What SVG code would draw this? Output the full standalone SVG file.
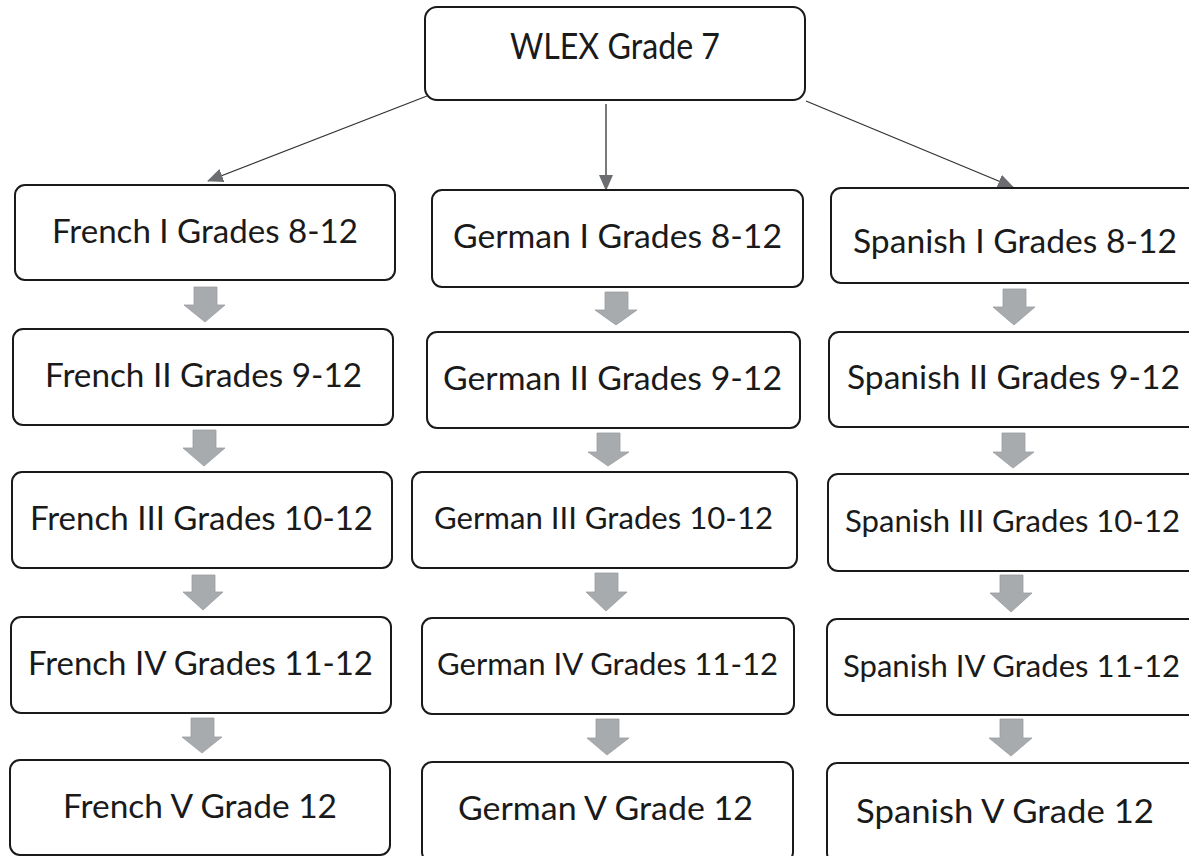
<svg xmlns="http://www.w3.org/2000/svg" width="1189" height="856" viewBox="0 0 1189 856">
<style>
.box{fill:#fff;stroke:#1a1a1a;stroke-width:2}
.t{font-family:Lato,"Open Sans",sans-serif;font-size:32px;fill:#1a1a1a;text-anchor:middle}
.blk{fill:#a8abae;stroke:#9a9da1;stroke-width:0.8}
.con{stroke:#333;stroke-width:1.3;fill:none;marker-end:url(#ah)}
</style>
<defs>
<marker id="ah" markerUnits="userSpaceOnUse" markerWidth="16" markerHeight="14" refX="15" refY="7" orient="auto" viewBox="0 0 16 14">
<path d="M0,0 L16,7 L0,14 z" fill="#6b6d70"/>
</marker>
</defs>
<rect width="1189" height="856" fill="#fff"/>
<g id="connectors">
<line class="con" x1="427" y1="96" x2="208" y2="181"/>
<line class="con" x1="606" y1="104" x2="606" y2="190"/>
<line class="con" x1="806" y1="101" x2="1013" y2="187"/>
<path class="blk" d="M194,287 H217 V305 H225 L205,322 L184,305 H194 Z"/>
<path class="blk" d="M193,430 H216 V448 H225 L204,466 L183,448 H193 Z"/>
<path class="blk" d="M192,575 H215 V592 H223 L203,610 L183,592 H192 Z"/>
<path class="blk" d="M191,718 H214 V737 H222 L202,753 L182,737 H191 Z"/>
<path class="blk" d="M605,292 H628 V310 H637 L616,325 L595,310 H605 Z"/>
<path class="blk" d="M597,433 H620 V452 H629 L608,466 L588,452 H597 Z"/>
<path class="blk" d="M595,573 H618 V592 H627 L606,611 L586,592 H595 Z"/>
<path class="blk" d="M596,719 H619 V738 H629 L607,755 L587,738 H596 Z"/>
<path class="blk" d="M1003,289 H1026 V307 H1035 L1014,325 L993,307 H1003 Z"/>
<path class="blk" d="M1002,433 H1025 V452 H1034 L1013,468 L993,452 H1002 Z"/>
<path class="blk" d="M1000,575 H1023 V593 H1032 L1011,612 L990,593 H1000 Z"/>
<path class="blk" d="M1000,719 H1023 V738 H1032 L1011,756 L989,738 H1000 Z"/>
</g>
<g id="wlex"><rect class="box" x="425" y="7" width="380" height="93" rx="12"/><text class="t" x="615" y="59" style="font-size:36px" textLength="210" lengthAdjust="spacingAndGlyphs">WLEX Grade 7</text></g>
<g id="french1"><rect class="box" x="15" y="185" width="380" height="95" rx="10"/><text class="t" x="205" y="243" textLength="306" lengthAdjust="spacingAndGlyphs">French I Grades 8-12</text></g>
<g id="french2"><rect class="box" x="13" y="329" width="380" height="96" rx="10"/><text class="t" x="203.5" y="387" textLength="317" lengthAdjust="spacingAndGlyphs">French II Grades 9-12</text></g>
<g id="french3"><rect class="box" x="12" y="472" width="380" height="96" rx="10"/><text class="t" x="201.5" y="530" textLength="343" lengthAdjust="spacingAndGlyphs">French III Grades 10-12</text></g>
<g id="french4"><rect class="box" x="11" y="617" width="380" height="96" rx="10"/><text class="t" x="200.5" y="675" textLength="345" lengthAdjust="spacingAndGlyphs">French IV Grades 11-12</text></g>
<g id="french5"><rect class="box" x="10" y="760" width="380" height="95" rx="10"/><text class="t" x="200" y="818" textLength="274" lengthAdjust="spacingAndGlyphs">French V Grade 12</text></g>
<g id="german1"><rect class="box" x="432" y="190" width="371" height="97" rx="10"/><text class="t" x="617.5" y="248" textLength="329" lengthAdjust="spacingAndGlyphs">German I Grades 8-12</text></g>
<g id="german2"><rect class="box" x="427" y="332" width="373" height="96" rx="10"/><text class="t" x="612.5" y="390" textLength="339" lengthAdjust="spacingAndGlyphs">German II Grades 9-12</text></g>
<g id="german3"><rect class="box" x="412" y="472" width="385" height="96" rx="10"/><text class="t" x="603.5" y="529" style="font-size:30px" textLength="339" lengthAdjust="spacingAndGlyphs">German III Grades 10-12</text></g>
<g id="german4"><rect class="box" x="422" y="618" width="372" height="96" rx="10"/><text class="t" x="607.5" y="675" style="font-size:30px" textLength="341" lengthAdjust="spacingAndGlyphs">German IV Grades 11-12</text></g>
<g id="german5"><rect class="box" x="422" y="762" width="371" height="100" rx="10"/><text class="t" x="605.5" y="820" textLength="295" lengthAdjust="spacingAndGlyphs">German V Grade 12</text></g>
<g id="spanish1"><rect class="box" x="831" y="188" width="380" height="95" rx="10"/><text class="t" x="1015" y="253" textLength="324" lengthAdjust="spacingAndGlyphs">Spanish I Grades 8-12</text></g>
<g id="spanish2"><rect class="box" x="829" y="332" width="380" height="95" rx="10"/><text class="t" x="1013.5" y="389" textLength="333" lengthAdjust="spacingAndGlyphs">Spanish II Grades 9-12</text></g>
<g id="spanish3"><rect class="box" x="828" y="474" width="380" height="97" rx="10"/><text class="t" x="1012.5" y="532" style="font-size:30px" textLength="335" lengthAdjust="spacingAndGlyphs">Spanish III Grades 10-12</text></g>
<g id="spanish4"><rect class="box" x="827" y="619" width="380" height="96" rx="10"/><text class="t" x="1011.5" y="677" style="font-size:30px" textLength="337" lengthAdjust="spacingAndGlyphs">Spanish IV Grades 11-12</text></g>
<g id="spanish5"><rect class="box" x="827" y="763" width="380" height="100" rx="10"/><text class="t" x="1005" y="823" textLength="298" lengthAdjust="spacingAndGlyphs">Spanish V Grade 12</text></g>
</svg>
